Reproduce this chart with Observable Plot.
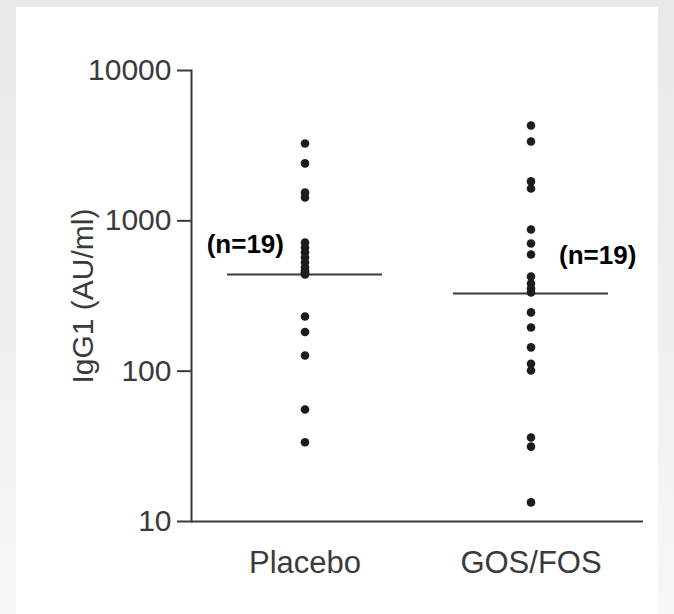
<!DOCTYPE html>
<html>
<head>
<meta charset="utf-8">
<script src="https://cdn.jsdelivr.net/npm/d3@7"></script>
<script src="https://cdn.jsdelivr.net/npm/@observablehq/plot@0.6"></script>
<style>
  html, body { margin: 0; padding: 0; }
  body { width: 674px; height: 614px; overflow: hidden; background: linear-gradient(to bottom, #e6eaec 0%, #eef1f2 60%, #f6f7f7 100%); }
  #wrap { position: relative; width: 674px; height: 614px; }
  #panel { position: absolute; left: 16px; top: 7px; right: 16px; bottom: 0; background: #ffffff; }
  #chart { position: absolute; left: 0; top: 0; }
  #chart svg { background: transparent; }
</style>
</head>
<body>
<div id="wrap">
  <div id="panel"></div>
  <div id="chart"></div>
</div>
<script>
// Treatment groups and individual IgG1 titres (AU/ml), one value per subject
const groups = ["Placebo", "GOS/FOS"];
const placebo = [3270, 2410, 1540, 1430, 718, 665, 616, 570, 528, 489, 467, 453, 446, 440, 231, 182, 127, 55.6, 33.7];
const gosFos = [4310, 3370, 1830, 1640, 876, 707, 597, 426, 383, 355, 334, 246, 195, 144, 112, 101, 36.2, 31.5, 13.4];

// Group medians (horizontal bars)
const medians = [440, 328];

// Sample size annotations and the titre level they sit at
const nLabels = ["(n=19)", "(n=19)"];
const nLabelLevel = [696, 588];

// Y-axis ticks
const yTicks = [10, 100, 1000, 10000];

const points = [
  ...placebo.map(v => ({group: groups[0], value: v})),
  ...gosFos.map(v => ({group: groups[1], value: v}))
];
const medianRows = groups.map((g, i) => ({group: g, value: medians[i]}));
const noteRows = groups.map((g, i) => ({group: g, value: nLabelLevel[i], text: nLabels[i]}));

const ink = "#3a3a3a";

const chart = Plot.plot({
  width: 674,
  height: 614,
  marginLeft: 191,
  marginRight: 31,
  marginTop: 70,
  marginBottom: 93,
  style: {fontFamily: "'Liberation Sans', Arial, Helvetica, sans-serif", background: "transparent", overflow: "visible"},
  x: {type: "band", domain: groups, paddingInner: 0.316, paddingOuter: 0.158},
  y: {type: "log", domain: [10, 10000]},
  marks: [
    Plot.frame({anchor: "left", stroke: ink, strokeWidth: 2}),
    Plot.ruleY([10], {stroke: ink, strokeWidth: 2}),
    Plot.axisY({
      ticks: yTicks,
      tickFormat: d => String(d),
      tickSize: 14,
      tickPadding: 6,
      fontSize: 30,
      stroke: ink,
      strokeWidth: 2,
      color: ink,
      label: "IgG1 (AU/ml)",
      labelAnchor: "center",
      labelArrow: "none",
      labelOffset: 120
    }),
    Plot.axisX({
      tickSize: 0,
      tickPadding: 29,
      fontSize: 31,
      color: ink,
      label: null
    }),
    Plot.tickY(medianRows, {x: "group", y: "value", stroke: ink, strokeWidth: 2}),
    Plot.dot(points, {x: "group", y: "value", r: 4.3, fill: "#1c1c1c", stroke: "none"}),
    Plot.text(noteRows.slice(0, 1), {
      x: "group", y: "value", text: "text",
      textAnchor: "end", dx: -21, fontSize: 26, fontWeight: "bold", fill: "#000"
    }),
    Plot.text(noteRows.slice(1), {
      x: "group", y: "value", text: "text",
      textAnchor: "start", dx: 28, fontSize: 26, fontWeight: "bold", fill: "#000"
    })
  ]
});

document.getElementById("chart").appendChild(chart);
</script>
</body>
</html>
